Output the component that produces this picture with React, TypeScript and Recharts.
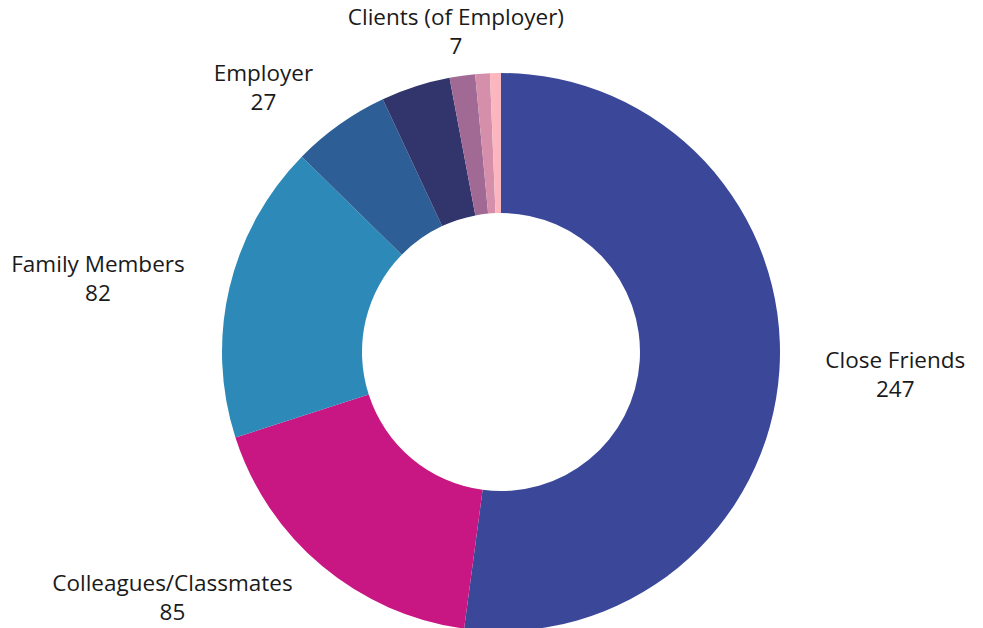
import { PieChart, Pie, Cell } from 'recharts';

const categories = [
    'Close Friends',
    'Colleagues/Classmates',
    'Family Members',
    'Employer',
    'Other Contacts',
    'Clients (of Employer)',
    'Other Group A',
    'Other Group B',
];
const values = [247, 85, 82, 27, 19, 7, 4, 3];
const labelled = [true, true, true, true, false, true, false, false];
const colors = ['#3B4799', '#C81682', '#2D8AB8', '#2D5F96', '#31356B', '#A06A95', '#D58FAB', '#FBB6BE'];

const data = categories.map((name, i) => ({ name, value: values[i], show: labelled[i] }));

const FONT = '22.5px "Open Sans"';
const RADIAN = Math.PI / 180;
const HEIGHT = 628;

let measureCtx: CanvasRenderingContext2D | null = null;
const measure = (text: string) => {
    if (!measureCtx) measureCtx = document.createElement('canvas').getContext('2d');
    if (!measureCtx) return text.length * 11;
    measureCtx.font = FONT;
    return measureCtx.measureText(text).width;
};

const renderLabel = (props: any) => {
    const { cx, cy, midAngle, outerRadius, name, value, payload } = props;
    if (!payload || !payload.show) return null;
    const r = outerRadius + 46;
    const cos = Math.cos(-midAngle * RADIAN);
    const sin = Math.sin(-midAngle * RADIAN);
    const ax = cx + r * cos;
    // keep the two-line block inside the chart
    const ay = Math.min(cy + r * sin, HEIGHT - 32);
    const w = Math.max(measure(name), measure(String(value)));
    let x = ax;
    if (cos > 0.3) x = ax + w / 2;
    else if (cos < -0.3) x = ax - w / 2;
    return (
        <g>
            <text x={x} y={ay - 14} textAnchor="middle" dominantBaseline="central"
                fill="#1a1a1a" style={{ font: FONT }}>
                {name}
            </text>
            <text x={x} y={ay + 15} textAnchor="middle" dominantBaseline="central"
                fill="#1a1a1a" style={{ font: FONT }}>
                {value}
            </text>
        </g>
    );
};

const App = () => {
    return (
        <div style={{ position: 'fixed', left: 0, top: 0, width: 983, height: HEIGHT, background: '#fff' }}>
            <PieChart width={983} height={HEIGHT} margin={{ top: 0, right: 0, bottom: 0, left: 0 }}>
                <Pie
                    data={data}
                    dataKey="value"
                    nameKey="name"
                    cx={501}
                    cy={352}
                    innerRadius={139}
                    outerRadius={279}
                    startAngle={90}
                    endAngle={-270}
                    stroke="none"
                    labelLine={false}
                    label={renderLabel}
                    isAnimationActive={false}
                >
                    {data.map((d, i) => (
                        <Cell key={d.name} fill={colors[i]} />
                    ))}
                </Pie>
            </PieChart>
        </div>
    );
};

export default App;
